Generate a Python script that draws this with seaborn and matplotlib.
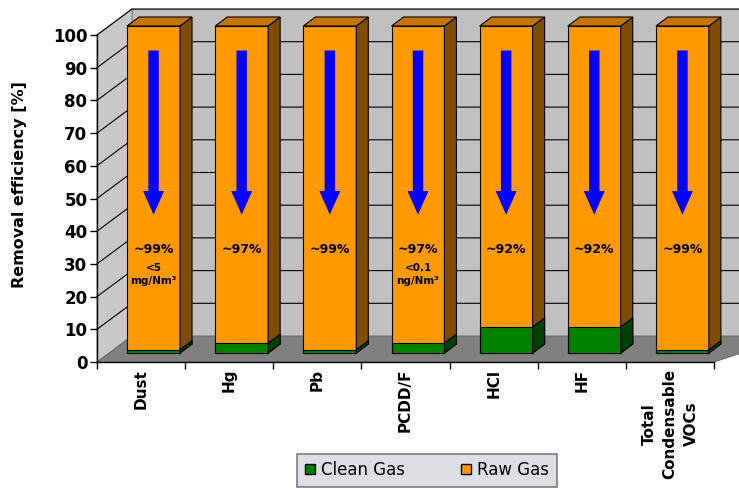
import numpy as np
import pandas as pd
import seaborn as sns
import matplotlib
matplotlib.use("Agg")
import matplotlib.pyplot as plt
from matplotlib.transforms import ScaledTranslation
from matplotlib.patches import Polygon, Patch

# ---------------- data ----------------
categories = ["Dust", "Hg", "Pb", "PCDD/F", "HCl", "HF", "Total\nCondensable\nVOCs"]
clean_gas = [1, 3, 1, 3, 8, 8, 1]
raw_gas = [99, 97, 99, 97, 92, 92, 99]
eff_labels = ["~99%", "~97%", "~99%", "~97%", "~92%", "~92%", "~99%"]
sub_labels = ["<5\nmg/Nm³", "", "", "<0.1\nng/Nm³", "", "", ""]
yticks = list(range(0, 101, 10))
series_names = ["Clean Gas", "Raw Gas"]

# ---------------- style ----------------
ORANGE = "#FF9900"
ORANGE_SIDE = "#7F4D00"
ORANGE_TOP = "#C47500"
GREEN = "#008000"
GREEN_SIDE = "#004000"
WALL = "#C0C0C0"
FLOOR = "#808080"

sns.set_style("white")
plt.rcParams["font.family"] = ["DejaVu Sans"]
plt.rcParams["text.color"] = "black"
plt.rcParams["xtick.color"] = "black"
plt.rcParams["ytick.color"] = "black"

W, H = 739, 488
fig = plt.figure(figsize=(W / 100, H / 100), dpi=100)
ax = fig.add_axes([97 / W, 1 - 362 / H, (714 - 97) / W, (362 - 35) / H])
ax.patch.set_visible(False)

df = pd.DataFrame({"cat": categories, "clean": clean_gas, "raw": raw_gas})
df["total"] = df["clean"] + df["raw"]

sns.barplot(data=df, x="cat", y="total", color=ORANGE, saturation=1, width=0.6,
            edgecolor="black", linewidth=0.8, ax=ax, zorder=3)
n_raw = len(ax.patches)
sns.barplot(data=df, x="cat", y="clean", color=GREEN, saturation=1, width=0.6,
            edgecolor="black", linewidth=0.8, ax=ax, zorder=4)

ax.set_xlim(-0.5, len(categories) - 0.5)
ax.set_ylim(0, 100)
ax.set_xlabel("")
ax.set_ylabel("")

# 3D offsets in pixels
D1 = (12.5, 9.0)    # bar front
D2 = (24.5, 18.0)   # bar back
DB = (35.0, 26.0)   # back wall

def F(x, y, d):
    X, Y = ax.transData.transform((x, y))
    return ((X + d[0]) / W, (Y + d[1]) / H)

def poly(pts, fc, ec="black", lw=0.8, z=1):
    p = Polygon(pts, closed=True, facecolor=fc, edgecolor=ec, linewidth=lw,
                transform=fig.transFigure, clip_on=False, zorder=z)
    ax.add_patch(p)
    return p

x0a, x1a = -0.5, len(categories) - 0.5
# back wall, side wall, floor
poly([F(x0a, 0, DB), F(x1a + 0.5, 0, DB), F(x1a + 0.5, 100, DB), F(x0a, 100, DB)],
     WALL, ec="#909090", lw=0.8, z=0.5)
poly([F(x0a, 0, (0, 0)), F(x0a, 100, (0, 0)), F(x0a, 100, DB), F(x0a, 0, DB)],
     "#C8C8C8", ec="#909090", lw=0.8, z=0.5)
poly([F(x0a, 0, (0, 0)), F(x1a, 0, (0, 0)), F(x1a + 0.5, 0, DB), F(x0a, 0, DB)],
     FLOOR, ec="#606060", lw=0.6, z=0.6)
for v in yticks[1:]:
    pts = [F(x0a, v, (0, 0)), F(x0a, v, DB), F(x1a + 0.5, v, DB)]
    ax.add_line(plt.Line2D([p[0] for p in pts], [p[1] for p in pts], color="black",
                           lw=0.8, transform=fig.transFigure, clip_on=False, zorder=0.7))

# bars -> 3D
off1 = ax.transData + ScaledTranslation(D1[0] / 100, D1[1] / 100, fig.dpi_scale_trans)
for k, p in enumerate(list(ax.patches)):
    if isinstance(p, Polygon):
        continue
    bx, bw, by, bh = p.get_x(), p.get_width(), p.get_y(), p.get_height()
    is_raw = k < n_raw
    poly([F(bx + bw, by, D1), F(bx + bw, by + bh, D1), F(bx + bw, by + bh, D2), F(bx + bw, by, D2)],
         ORANGE_SIDE if is_raw else GREEN_SIDE, z=3 if is_raw else 4)
    if is_raw:
        poly([F(bx, by + bh, D1), F(bx + bw, by + bh, D1), F(bx + bw, by + bh, D2), F(bx, by + bh, D2)],
             ORANGE_TOP, z=3)
    p.set_transform(off1)
    p.set_clip_on(False)

# arrows and labels
for i in range(len(categories)):
    ax.annotate("", xy=(i, 42.3), xytext=(i, 92.5), xycoords=off1, textcoords=off1,
                arrowprops=dict(facecolor="#0000FF", edgecolor="none", width=7.5,
                                headwidth=15, headlength=17, shrink=0),
                annotation_clip=False, zorder=6)
    ax.text(i, 31.6, eff_labels[i], transform=off1, ha="center", va="center",
            fontsize=9, fontweight="bold", color="black", zorder=6)
    if sub_labels[i]:
        ax.text(i, 24.0, sub_labels[i], transform=off1, ha="center", va="center",
                fontsize=7.5, fontweight="bold", linespacing=1.3, color="black", zorder=6)

# axes/ticks
for s in ["top", "right"]:
    ax.spines[s].set_visible(False)
for s in ["left", "bottom"]:
    ax.spines[s].set_color("black")
    ax.spines[s].set_linewidth(1.0)
    ax.spines[s].set_zorder(5)
ax.set_yticks(yticks)
ax.set_yticklabels([str(v) for v in yticks], fontsize=12, fontweight="bold", color="black")
ax.tick_params(axis="y", length=5, width=1, direction="out", pad=2, left=True, color="black")
ax.set_xticks(np.arange(-0.5, len(categories), 1.0))
ax.set_xticklabels([])
ax.set_xticks(range(len(categories)), labels=categories, minor=True)
ax.tick_params(axis="x", which="major", length=5, width=1, direction="out", bottom=True, color="black")
ax.tick_params(axis="x", which="minor", length=0, pad=5, bottom=True)
for t in ax.get_xticklabels(minor=True):
    t.set_rotation(90)
    t.set_fontweight("bold")
    t.set_fontsize(11)
    t.set_linespacing(1.5)
    t.set_ha("center")
    t.set_va("top")
    t.set_color("black")

fig.text(20 / W, 1 - 185 / H, "Removal efficiency [%]", rotation=90, ha="center",
         va="center", fontsize=11.5, fontweight="bold", color="black")

handles = [Patch(facecolor=GREEN, edgecolor="black"), Patch(facecolor=ORANGE, edgecolor="black")]
leg = fig.legend(handles, series_names, loc="center", bbox_to_anchor=(427 / W, 1 - 470 / H),
                 ncol=2, frameon=True, fancybox=False, facecolor="#D5D8DE", edgecolor="#606060",
                 fontsize=12, handlelength=0.6, handleheight=0.6, handletextpad=0.35,
                 columnspacing=3.4, borderpad=0.45, borderaxespad=0, labelcolor="black")
leg.get_frame().set_linewidth(1.2)

fig.savefig("out.png", dpi=100)
